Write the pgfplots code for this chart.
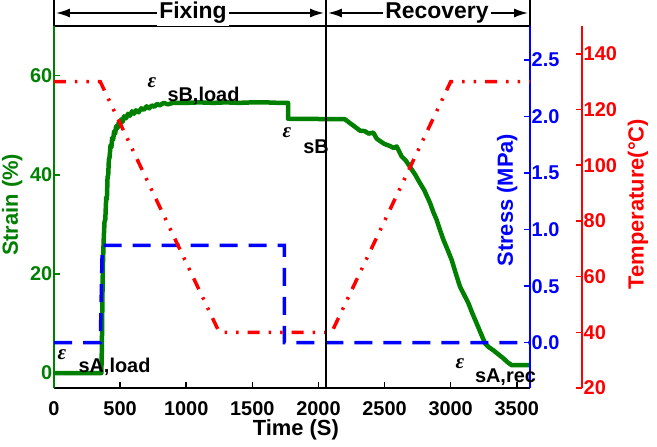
\documentclass[border=0pt]{standalone}
\usepackage{fontspec}
\setmainfont{Liberation Sans}
\newfontfamily\grk{Liberation Serif}
\usepackage{pgfplots}
\pgfplotsset{compat=1.18}
\usetikzlibrary{arrows.meta}
\definecolor{sgreen}{RGB}{0,128,0}
\definecolor{sblue}{RGB}{0,0,255}
\definecolor{sred}{RGB}{255,0,0}
\newcommand{\lbl}{\bfseries\fontsize{20}{24}\selectfont}
\newcommand{\ttl}{\bfseries\fontsize{22}{26}\selectfont}
\newcommand{\hdr}{\bfseries\fontsize{23}{27}\selectfont}
\newcommand{\eps}{{\grk\bfseries\itshape\fontsize{21}{24}\selectfont ε}}
\pgfplotsset{common/.style={
  scale only axis, width=476bp, height=362bp, at={(0,0)}, anchor=south west,
  xmin=0, xmax=3600, clip=false,
  tick align=inside, major tick length=6bp,
  tick label style={font=\lbl, inner sep=1.5bp},
  /pgf/number format/assume math mode=true,
  /pgf/number format/1000 sep={},
}}
\begin{document}
\begin{tikzpicture}
\useasboundingbox (-54bp,-59bp) rectangle (603bp,388bp);
% main axis: strain
\begin{axis}[common, ymin=-3, ymax=70,
  axis lines=box, separate axis lines,
  x axis line style={black, line width=2bp},
  y axis line style={sgreen, line width=2bp},
  xtick={0,500,1000,1500,2000,2500,3000,3500}, ytick={0,20,40,60},
  xtick pos=bottom, ytick pos=left,
  x tick style={black, line width=1.5bp}, y tick style={sgreen, line width=1.5bp},
  yticklabel style={sgreen}, xticklabel style={black, yshift=-12bp}]
\addplot[sgreen, line width=4.5bp, line join=round] coordinates {
(0,0) (340,0) (358,0) (362,5) (366,15) (370,22) (376,27) (382,30.5) (388,31)
(395,35.5) (400,35) (405,39.5) (410,40) (415,43) (420,43.5) (428,46) (434,45.5)
(440,47.5) (447,47) (455,48.8) (462,48.2) (470,49.8) (480,49.4) (490,50.6) (500,50.1)
(510,51.2) (520,50.7) (530,51.8) (545,51.4) (560,52.3) (575,51.9) (590,52.8) (605,52.3)
(620,53) (640,52.6) (660,53.4) (680,53.1) (700,53.8) (720,53.4) (740,54) (760,53.7)
(780,54.3) (800,54) (830,54.5) (860,54.2) (900,54.5) (1000,54.5) (1100,54.6)
(1200,54.5) (1300,54.6) (1400,54.5) (1500,54.6) (1600,54.6) (1700,54.5) (1770,54.5)
(1770,51.3) (2200,51.2) (2239,50.4) (2270,49.8) (2314,48.9) (2350,48.8) (2380,48.3)
(2415,48.5) (2440,47.3) (2466,46.8) (2500,46.2) (2541,45.8) (2570,45.4) (2592,45.7)
(2629,43.7) (2660,42.9) (2692,41.6) (2730,40.1) (2768,38.3) (2800,36.9) (2844,34.3)
(2870,32.4) (2894,30.9) (2920,28.8) (2945,26.9) (2975,25) (3008,22.8) (3040,20)
(3071,17.4) (3100,15.9) (3134,14.1) (3165,12) (3197,10) (3230,7.9) (3260,6)
(3290,5.2) (3323,4.6) (3360,3.8) (3398,3) (3430,2.2) (3461,1.6) (3600,1.6)
};
\end{axis}
% stress axis
\begin{axis}[common, ymin=-0.4, ymax=2.8, axis y line*=right, hide x axis,
  y axis line style={sblue, line width=2bp}, y tick style={sblue, line width=1.5bp},
  ytick={0,0.5,1,1.5,2,2.5},
  yticklabel style={sblue, /pgf/number format/fixed, /pgf/number format/fixed zerofill,
    /pgf/number format/precision=1}]
\addplot[sblue, line width=3.5bp, dash pattern=on 18bp off 11bp] coordinates {
(0,0) (350,0) (365,0.86) (1742,0.86) (1742,0) (3600,0)
};
\end{axis}
% temperature data
\begin{axis}[common, ymin=20, ymax=150, hide x axis, hide y axis]
\addplot[sred, line width=3.5bp, dash pattern=on 12bp off 9bp on 2.5bp off 9bp on 2.5bp off 9bp] coordinates {
(0,130) (350,130) (1250,40) (2100,40) (3000,130) (3600,130)
};
% header
\draw[black, line width=2.2bp] (rel axis cs:0,1) -- (rel axis cs:0,1.0718);
\draw[black, line width=2.2bp] (rel axis cs:1,1) -- (rel axis cs:1,1.0718);
\draw[black, line width=2.2bp] (rel axis cs:0.5714,0) -- (rel axis cs:0.5714,1.0718);
\draw[black, line width=1.8bp, {Latex[length=14bp,width=9bp]}-{Latex[length=14bp,width=9bp]}]
  (rel axis cs:0.004,1.0359) -- (rel axis cs:0.5674,1.0359);
\draw[black, line width=1.8bp, {Latex[length=14bp,width=9bp]}-{Latex[length=14bp,width=9bp]}]
  (rel axis cs:0.5754,1.0359) -- (rel axis cs:0.996,1.0359);
\node[fill=white, inner sep=2bp, font=\hdr] at (rel axis cs:0.292,1.0359) {Fixing};
\node[fill=white, inner sep=2bp, font=\hdr] at (rel axis cs:0.8046,1.0359) {Recovery};
% annotations
\node at (rel axis cs:0.2059,0.8425) {\eps};
\node[font=\lbl] at (rel axis cs:0.3141,0.8066) {sB,load};
\node at (rel axis cs:0.4895,0.7044) {\eps};
\node[font=\lbl] at (rel axis cs:0.5504,0.6657) {sB};
\node at (rel axis cs:0.0168,0.0912) {\eps};
\node[font=\lbl] at (rel axis cs:0.1271,0.0580) {sA,load};
\node at (rel axis cs:0.8529,0.0663) {\eps};
\node[font=\lbl] at (rel axis cs:0.9485,0.0304) {sA,rec};
% axis labels
\node[font=\ttl, text=sgreen, rotate=90] at (rel axis cs:-0.088,0.506) {Strain (\%)};
\node[font=\ttl, text=sblue, rotate=90] at (rel axis cs:0.952,0.519) {Stress (MPa)};
\node[font=\ttl, text=sred, rotate=90] at (rel axis cs:1.227,0.508) {Temperature(°C)};
\node[font=\ttl] at (rel axis cs:0.508,-0.116) {Time (S)};
\end{axis}
% temperature axis
\begin{axis}[common, at={(52bp,0)}, ymin=20, ymax=150, hide x axis, axis y line*=right,
  y axis line style={sred, line width=2bp}, y tick style={sred, line width=1.5bp},
  ytick={20,40,60,80,100,120,140}, yticklabel style={sred}]
\addplot[draw=none] coordinates {(0,20) (3600,150)};
\end{axis}
\end{tikzpicture}
\end{document}
